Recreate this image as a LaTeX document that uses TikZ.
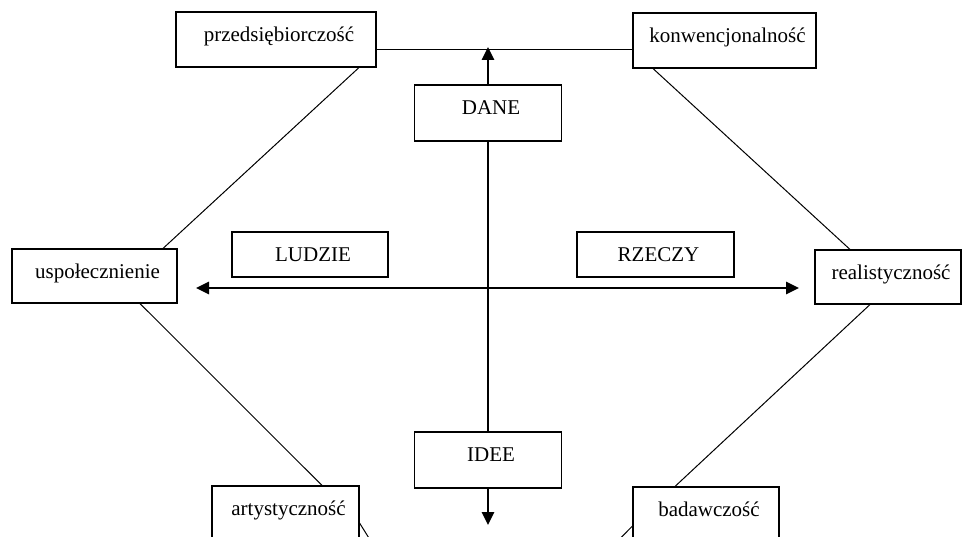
\documentclass[tikz,border=0pt]{standalone}
\usepackage{fontspec}
\setmainfont{Liberation Serif}
\usetikzlibrary{arrows.meta}
\begin{document}
\begin{tikzpicture}[x=1pt,y=-1pt,
  font=\fontsize{21}{25}\selectfont,
  box/.style={draw, line width=1.1pt, fill=white, inner sep=0pt, minimum height=55pt},
  lbl/.style={anchor=base, yshift=-30pt, xshift=3pt, inner sep=0pt},
  link/.style={line width=1pt},
  axisline/.style={line width=2.8pt},
  tip/.style={axisline, -{Triangle[length=13pt,width=12pt]}},
  bitip/.style={axisline, {Triangle[length=13pt,width=12pt]}-{Triangle[length=13pt,width=12pt]}},
]
\useasboundingbox (0,0) rectangle (962,537);
\clip (0,0) rectangle (962,537);

% corner categories
\node[box, minimum width=200pt, label={[lbl]north:przedsiębiorczość}] (p) at (276,39.5) {};
\node[box, minimum width=183pt, label={[lbl]north:konwencjonalność}] (k) at (724.5,40.5) {};
\node[box, minimum width=165pt, minimum height=54pt, label={[lbl]north:uspołecznienie}] (u) at (94.5,276) {};
\node[box, minimum width=146pt, minimum height=54pt, label={[lbl]north:realistyczność}] (r) at (888,277) {};
\node[box, minimum width=147pt, label={[lbl]north:artystyczność}] (a) at (285.5,513.5) {};
\node[box, minimum width=146pt, label={[lbl]north:badawczość}] (b) at (706,514.5) {};

% axis labels
\node[box, minimum width=147pt, minimum height=56pt, label={[lbl]north:DANE}] (d) at (488,113) {};
\node[box, minimum width=147pt, minimum height=56pt, label={[lbl]north:IDEE}] (i) at (488,460) {};
\node[box, minimum width=156pt, minimum height=45pt, label={[lbl]north:LUDZIE}] (l) at (310,254.5) {};
\node[box, minimum width=157pt, minimum height=45pt, label={[lbl]north:RZECZY}] (z) at (655.5,254.5) {};

% free ends
\coordinate (top) at (488,47);
\coordinate (bot) at (488,525);
\coordinate (west) at (196,288);
\coordinate (east) at (799,288);
\coordinate (aout) at (420,620);
\coordinate (bout) at (540,620);

% ring of links
\draw[link] ([yshift=-10.5pt]p.east) -- ([yshift=-9.5pt]k.west);
\draw[link] ([xshift=83pt]p.south) -- ([xshift=68.5pt]u.north);
\draw[link] ([xshift=-71.5pt]k.south) -- ([xshift=-38pt]r.north);
\draw[link] ([xshift=45.5pt]u.south) -- ([xshift=36.5pt]a.north);
\draw[link] ([xshift=-18pt]r.south) -- ([xshift=-31pt]b.north);
\draw[link] ([yshift=-9.5pt]a.east) -- (aout);
\draw[link] ([yshift=-11.5pt]b.west) -- (bout);

% axes
\draw[bitip] (west) -- (east);
\draw[tip] (d.north) -- (top);
\draw[axisline] (d.south) -- (i.north);
\draw[tip] (i.south) -- (bot);
\end{tikzpicture}
\end{document}
